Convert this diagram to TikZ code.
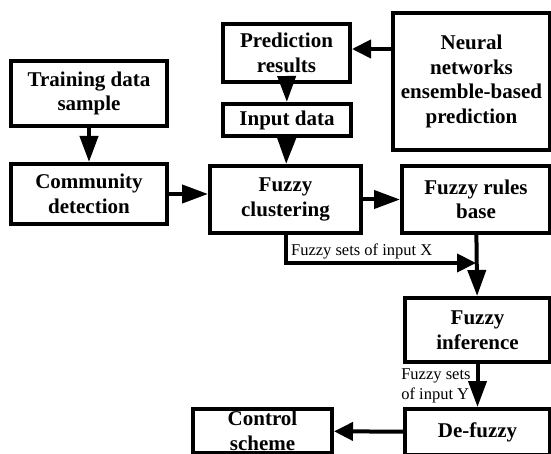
\documentclass[tikz,border=0pt]{standalone}
\usepackage{fontspec}
\setmainfont{Liberation Serif}
\usetikzlibrary{arrows.meta}
\tikzset{block/.style={draw,line width=4pt,inner sep=0pt,align=center,
                       font=\bfseries\fontsize{21}{24.5}\selectfont},
         flow/.style={line width=4pt,-{Triangle[length=26pt,width=18pt]}},
         shortflow/.style={line width=4pt,-{Triangle[length=19pt,width=18pt]}},
         setlabel/.style={font=\fontsize{16.5}{20}\selectfont,inner sep=2pt},
         }

\begin{document}
\begin{tikzpicture}[x=1pt,y=-1pt]
\clip (0,0) rectangle (551,454);
% boxes
\node[block,minimum width=156pt,minimum height=65pt] (train) at (89,93.5) {Training data\\sample};
\node[block,minimum width=156pt,minimum height=60pt] (comm) at (89,194) {Community\\detection};
\node[block,minimum width=127pt,minimum height=58pt] (pred) at (286.5,53) {Prediction\\results};
\node[block,minimum width=128pt,minimum height=32pt] (input) at (287,120) {Input data};
\node[block,minimum width=157pt,minimum height=137pt] (neural) at (471.5,81.5) {Neural\\networks\\ensemble-based\\prediction};
\node[block,minimum width=151pt,minimum height=67pt] (clust) at (285.5,199.5) {Fuzzy\\clustering};
\node[block,minimum width=148pt,minimum height=67pt] (rules) at (476,199.5) {Fuzzy rules\\base};
\node[block,minimum width=145pt,minimum height=64pt] (infer) at (477.5,330) {Fuzzy\\inference};
\node[block,minimum width=145pt,minimum height=46pt] (defuzzy) at (477.5,432) {De-fuzzy};
\node[block,minimum width=139pt,minimum height=44pt] (control) at (262.5,431) {Control\\scheme};
% arrows
\draw[flow] (train) -- (comm);
\draw[flow] (comm.east) -- (comm.east -| clust.west);
\draw[shortflow] (neural.west |- 0,49) -- (pred.east |- 0,49);
\draw[flow] (pred) -- (input);
\draw[flow] (input) -- (clust);
\draw[flow] (clust) -- (rules);
\coordinate (xjoin) at (rules.south |- 0,263);
\draw[shortflow] (clust.south) |- node[setlabel,pos=0.7,above] {Fuzzy sets of input X} (xjoin);
\draw[flow] (rules) -- (infer);
\draw[flow] (infer) -- node[setlabel,left,align=left,xshift=-3pt] {Fuzzy sets\\of input Y} (defuzzy);
\draw[shortflow] (defuzzy) -- (control);
\end{tikzpicture}
\end{document}
